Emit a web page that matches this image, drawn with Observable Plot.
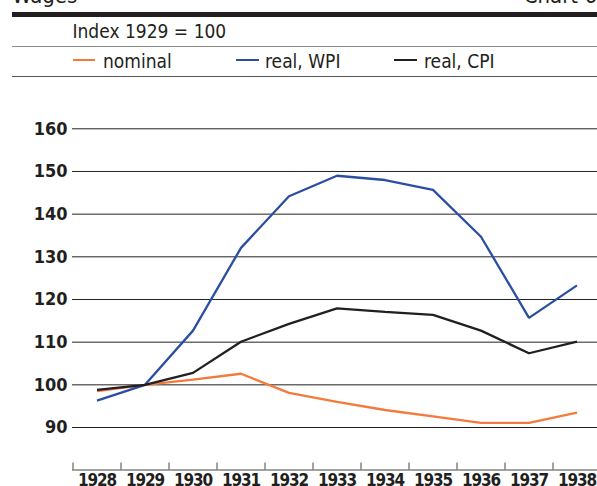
<!DOCTYPE html>
<html><head><meta charset="utf-8">
<script src="https://cdn.jsdelivr.net/npm/d3@7"></script>
<script src="https://cdn.jsdelivr.net/npm/@observablehq/plot@0.6"></script>
<style>
body{margin:0;background:#fff;}
#wrap{position:relative;width:597px;height:486px;overflow:hidden;font-family:"DejaVu Sans Condensed","DejaVu Sans",sans-serif;font-stretch:condensed;color:#231f20;}
.abs{position:absolute;white-space:nowrap;}
#chart{position:absolute;left:0;top:78px;}
</style></head><body>
<div id="wrap">
 <div class="abs" style="left:12px;top:-15px;font-size:22px;line-height:22px;">Wages</div>
 <div class="abs" style="right:0;top:-15px;font-size:22px;line-height:22px;">Chart 6</div>
 <div class="abs" style="left:12px;right:0;top:12px;height:5px;background:#231f20"></div>
 <div class="abs" id="subtitle" style="left:72.5px;top:22px;font-size:19px;line-height:19px;"></div>
 <div class="abs" style="left:12px;right:0;top:46px;height:1px;background:#8a8a8a"></div>
 <div id="legend"></div>
 <div class="abs" style="left:12px;right:0;top:76px;height:1px;background:#555"></div>
 <div id="chart"></div>
</div>
<script>
// ---- data ----
const subtitleText = "Index 1929 = 100";
const years = [1928, 1929, 1930, 1931, 1932, 1933, 1934, 1935, 1936, 1937, 1938];
const nominal = [98.5, 100, 101.2, 102.6, 98.1, 96.0, 94.1, 92.6, 91.1, 91.1, 93.5];
const realWPI = [96.3, 100, 112.7, 132.1, 144.2, 149.0, 148.0, 145.7, 134.7, 115.7, 123.3];
const realCPI = [98.8, 100, 102.8, 110.1, 114.3, 117.9, 117.1, 116.4, 112.7, 107.4, 110.1];
const seriesNames = ["nominal", "real, WPI", "real, CPI"];
const yTicks = [90, 100, 110, 120, 130, 140, 150, 160];

// ---- styles ----
const seriesColors = ["#f47a3c", "#2b4ea2", "#231f20"];
const legendPos = [[72.5, 103], [236, 265], [394, 424]];

document.getElementById("subtitle").textContent = subtitleText;
const legend = document.getElementById("legend");
seriesNames.forEach((name, i) => {
  const sw = document.createElement("div");
  sw.className = "abs";
  sw.style.cssText = `left:${legendPos[i][0]}px;top:59px;width:22.5px;height:2.2px;background:${seriesColors[i]}`;
  legend.appendChild(sw);
  const t = document.createElement("div");
  t.className = "abs";
  t.style.cssText = `left:${legendPos[i][1]}px;top:52px;font-size:19px;line-height:19px;`;
  t.textContent = name;
  legend.appendChild(t);
});

const seriesValues = [nominal, realWPI, realCPI];
const rows = [];
seriesNames.forEach((name, s) => {
  years.forEach((yr, i) => rows.push({year: yr, value: seriesValues[s][i], series: name}));
});
const boundaries = years.map(y => y - 0.5).concat([years[years.length - 1] + 0.5]);

const H = 408, MB = 16.5;
const font = '"DejaVu Sans Condensed","DejaVu Sans",sans-serif';
const chart = Plot.plot({
  width: 597, height: H,
  marginLeft: 72, marginRight: 0, marginTop: 0, marginBottom: MB,
  x: {domain: [years[0] - 0.5, years[years.length - 1] + 0.5], range: [72.5, 600.5]},
  y: {domain: [90, 160], range: [349, 50.3]},
  color: {domain: seriesNames, range: seriesColors},
  style: {fontFamily: font, color: "#231f20", background: "transparent"},
  marks: [
    Plot.ruleY(yTicks, {stroke: "#222", strokeWidth: 1}),
    Plot.frame({anchor: "bottom", stroke: "#444"}),
    Plot.ruleX(boundaries, {stroke: "#444", insetTop: H - MB - 7}),
    Plot.axisY({ticks: yTicks, anchor: "left", tickSize: 0, tickPadding: 5, fontSize: 18, fontWeight: "bold", label: null, fill: "#231f20"}),
    Plot.axisX({ticks: years, anchor: "bottom", tickSize: 0, tickPadding: 4, fontSize: 17, fontWeight: "bold", label: null, tickFormat: d => String(d), fill: "#231f20"}),
    Plot.line(rows, {x: "year", y: "value", stroke: "series", z: "series", strokeWidth: 2.3, strokeLinecap: "butt", strokeLinejoin: "miter"})
  ]
});
chart.style.fontStretch = "condensed";
const xl = chart.querySelector('g[aria-label="x-axis tick label"]');
if (xl) xl.style.letterSpacing = "-1.2px";
document.getElementById("chart").appendChild(chart);
</script>
</body></html>
